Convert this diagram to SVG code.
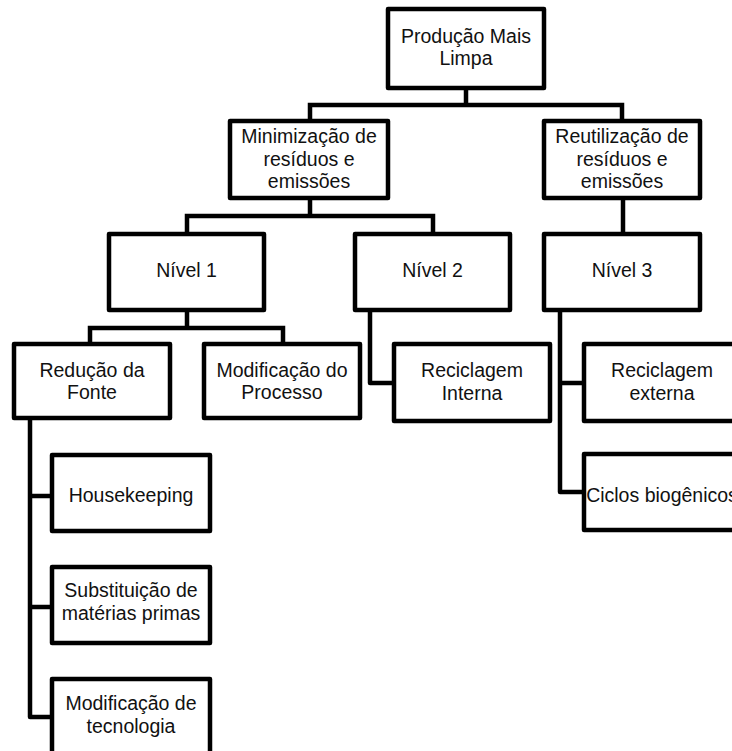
<svg xmlns="http://www.w3.org/2000/svg" width="732" height="751" viewBox="0 0 732 751">
  <style>
    .box { fill: #ffffff; stroke: #000000; stroke-width: 4.5; stroke-linejoin: round; }
    .wire { fill: none; stroke: #000000; stroke-width: 4.5; stroke-linejoin: round; stroke-linecap: square; }
    text { font-family: "Liberation Sans", Arial, sans-serif; font-size: 19.5px; fill: #111111; text-anchor: middle; }
  </style>
  <rect width="732" height="751" fill="#ffffff"/>

  <!-- connectors -->
  <g id="connectors">
    <path class="wire" d="M466,89 V105 M310,105 H622 M310,105 V119 M622,105 V119"/>
    <path class="wire" d="M310,200 V216 M187,216 H433 M187,216 V232 M433,216 V232"/>
    <path class="wire" d="M623,200 V232"/>
    <path class="wire" d="M187,312 V328 M90,328 H283 M90,328 V342 M283,328 V342"/>
    <path class="wire" d="M370,312 V383 H392"/>
    <path class="wire" d="M560,312 V492 H582 M560,383 H582"/>
    <path class="wire" d="M30,420 V717 H50 M30,496 H50 M30,607 H50"/>
  </g>

  <g id="producao-mais-limpa">
    <rect class="box" x="388" y="9" width="156" height="79"/>
    <text x="466" y="43">Produção Mais</text>
    <text x="466" y="65">Limpa</text>
  </g>

  <g id="minimizacao">
    <rect class="box" x="230" y="121" width="158" height="77"/>
    <text x="309" y="143">Minimização de</text>
    <text x="309" y="166">resíduos e</text>
    <text x="309" y="188">emissões</text>
  </g>

  <g id="reutilizacao">
    <rect class="box" x="544" y="121" width="156" height="77"/>
    <text x="622" y="143">Reutilização de</text>
    <text x="622" y="166">resíduos e</text>
    <text x="622" y="188">emissões</text>
  </g>

  <g id="nivel-1">
    <rect class="box" x="109" y="234" width="155" height="76"/>
    <text x="186.5" y="277">Nível 1</text>
  </g>

  <g id="nivel-2">
    <rect class="box" x="355" y="234" width="155" height="76"/>
    <text x="432.5" y="277">Nível 2</text>
  </g>

  <g id="nivel-3">
    <rect class="box" x="544" y="234" width="156" height="76"/>
    <text x="622" y="277">Nível 3</text>
  </g>

  <g id="reducao-da-fonte">
    <rect class="box" x="14" y="344" width="156" height="74"/>
    <text x="92" y="377">Redução da</text>
    <text x="92" y="399">Fonte</text>
  </g>

  <g id="modificacao-do-processo">
    <rect class="box" x="204" y="344" width="156" height="74"/>
    <text x="282" y="377">Modificação do</text>
    <text x="282" y="399">Processo</text>
  </g>

  <g id="reciclagem-interna">
    <rect class="box" x="394" y="344" width="156" height="77"/>
    <text x="472" y="377">Reciclagem</text>
    <text x="472" y="400">Interna</text>
  </g>

  <g id="reciclagem-externa">
    <rect class="box" x="584" y="344" width="156" height="77"/>
    <text x="662" y="377">Reciclagem</text>
    <text x="662" y="400">externa</text>
  </g>

  <g id="ciclos-biogenicos">
    <rect class="box" x="584" y="454" width="156" height="76"/>
    <text x="662" y="502">Ciclos biogênicos</text>
  </g>

  <g id="housekeeping">
    <rect class="box" x="52" y="455" width="158" height="76"/>
    <text x="131" y="502">Housekeeping</text>
  </g>

  <g id="substituicao">
    <rect class="box" x="52" y="567" width="158" height="76"/>
    <text x="131" y="597">Substituição de</text>
    <text x="131" y="620">matérias primas</text>
  </g>

  <g id="modificacao-de-tecnologia">
    <rect class="box" x="52" y="679" width="158" height="76"/>
    <text x="131" y="710">Modificação de</text>
    <text x="131" y="733">tecnologia</text>
  </g>
</svg>
